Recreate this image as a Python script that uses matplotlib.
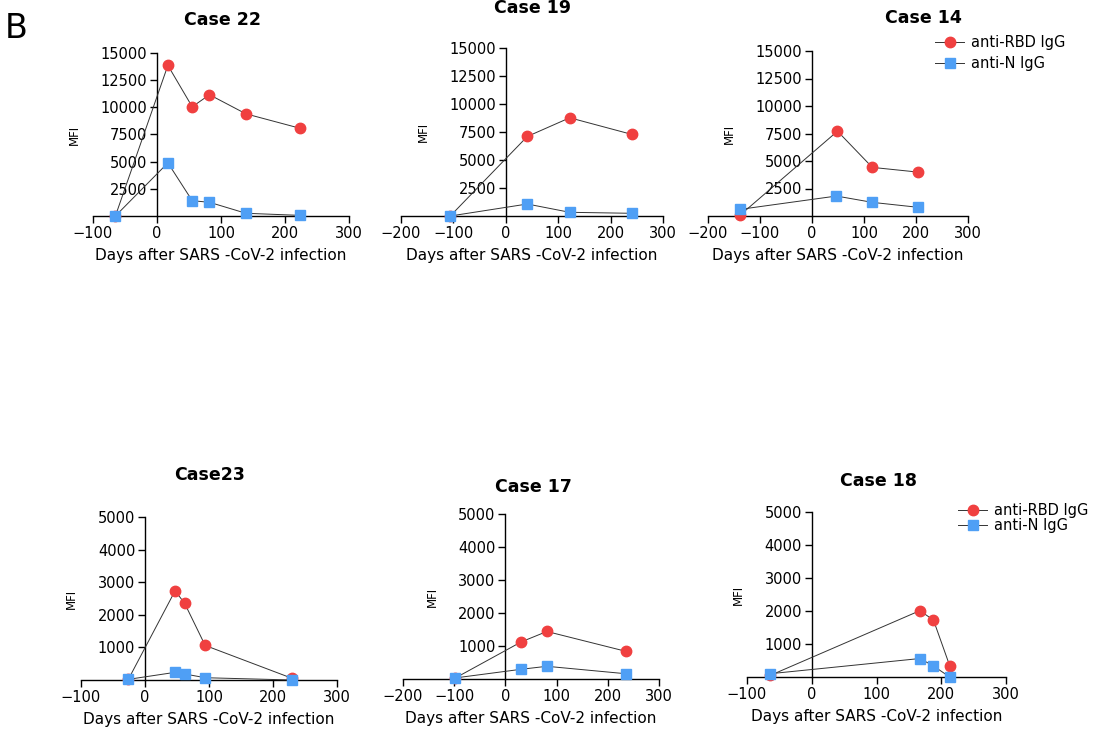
import numpy as np
import matplotlib
matplotlib.use("Agg")
import matplotlib.pyplot as plt

plt.rcParams['font.family'] = ['DejaVu Sans']

# ---- data ----
titles = ["Case 22", "Case 19", "Case 14", "Case23", "Case 17", "Case 18"]

rbd_days = [
    [-65, 17, 55, 82, 139, 223],
    [-106, 41, 122, 241],
    [-139, 49, 116, 204],
    [-26, 47, 62, 94, 230],
    [-99, 31, 81, 235],
    [-64, 167, 188, 213],
]
rbd_mfi = [
    [0, 13860, 10050, 11160, 9400, 8080],
    [0, 7100, 8770, 7280],
    [50, 7710, 4420, 3990],
    [20, 2735, 2350, 1060, 50],
    [20, 1125, 1440, 840],
    [50, 2010, 1725, 345],
]
n_days = [
    [-65, 17, 55, 82, 139, 223],
    [-106, 41, 122, 241],
    [-139, 47, 116, 204],
    [-26, 47, 62, 94, 230],
    [-99, 31, 81, 235],
    [-64, 167, 188, 213],
]
n_mfi = [
    [0, 4890, 1410, 1260, 250, 60],
    [0, 1070, 330, 240],
    [600, 1815, 1240, 790],
    [20, 235, 185, 70, 0],
    [30, 295, 385, 160],
    [100, 560, 335, 0],
]
xmins = [-100, -200, -200, -100, -200, -100]
ymaxs = [15000, 15000, 15000, 5000, 5000, 5000]
ysteps = [2500, 2500, 2500, 1000, 1000, 1000]

# ---- layout (pixels: left, right, top, bottom) ----
W, H = 1105, 736
boxes = [
    (93, 349, 53, 216),
    (401, 663, 48, 216),
    (708, 968, 51, 216),
    (81, 337, 517, 680),
    (403, 659, 514, 679),
    (747, 1006, 512, 677),
]
title_xy = [(222, 20), (533, 8), (923, 18), (210, 475), (533, 487), (878, 481)]

red = '#f04040'
blue = '#4f9ff5'

fig = plt.figure(figsize=(W / 100, H / 100), dpi=100)

for i in range(6):
    l, r, t, b = boxes[i]
    ax = fig.add_axes([l / W, 1 - b / H, (r - l) / W, (b - t) / H])
    ax.plot(rbd_days[i], rbd_mfi[i], color='#333333', lw=0.7, marker='o',
            ms=7.5, mfc=red, mec=red, clip_on=False, zorder=3,
            label='anti-RBD IgG')
    ax.plot(n_days[i], n_mfi[i], color='#333333', lw=0.7, marker='s',
            ms=7.5, mfc=blue, mec=blue, clip_on=False, zorder=4,
            label='anti-N IgG')

    ax.set_xlim(xmins[i], 300)
    ax.set_ylim(0, ymaxs[i])
    ax.set_xticks(np.arange(xmins[i], 301, 100))
    ax.set_yticks(np.arange(ysteps[i], ymaxs[i] + 1, ysteps[i]))

    for s in ['top', 'right']:
        ax.spines[s].set_visible(False)
    ax.spines['left'].set_position(('data', 0))
    for s in ['left', 'bottom']:
        ax.spines[s].set_linewidth(1.0)
    ax.tick_params(direction='out', length=5, width=1.0, labelsize=10.5, pad=2)

    ax.set_xlabel('Days after SARS -CoV-2 infection', fontsize=11, labelpad=5)
    ax.set_ylabel('MFI', fontsize=8.5, labelpad=14)

    tx, ty = title_xy[i]
    fig.text(tx / W, 1 - ty / H, titles[i], fontsize=12.5, fontweight='bold',
             ha='center', va='center')

    if i == 2:
        ax.legend(loc='center left', bbox_to_anchor=(935 / W, 1 - 53 / H),
                  bbox_transform=fig.transFigure, frameon=False, fontsize=10.5,
                  handlelength=2.0, handletextpad=0.5, labelspacing=0.4,
                  borderpad=0, borderaxespad=0)
    if i == 5:
        ax.legend(loc='center left', bbox_to_anchor=(958 / W, 1 - 518 / H),
                  bbox_transform=fig.transFigure, frameon=False, fontsize=10.5,
                  handlelength=2.0, handletextpad=0.5, labelspacing=0.0,
                  borderpad=0, borderaxespad=0)

fig.text(5 / W, 1 - 28 / H, 'B', fontsize=24, ha='left', va='center')

fig.savefig('out.png', dpi=100)
